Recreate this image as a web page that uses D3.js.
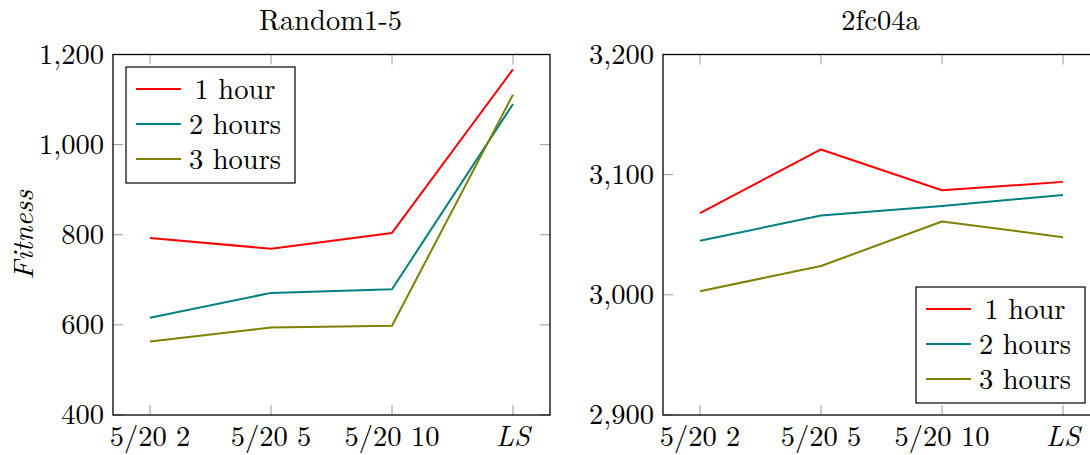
<!DOCTYPE html>
<html>
<head>
<meta charset="utf-8">
<script src="https://cdn.jsdelivr.net/npm/d3@7"></script>
<style>
  html, body { margin: 0; padding: 0; background: #fff; }
  svg { display: block; }
</style>
</head>
<body>
<svg id="chart" width="1090" height="455"></svg>
<script>
// ---- data ----
const categories = ["5/20 2", "5/20 5", "5/20 10", "LS"];
const seriesNames = ["1 hour", "2 hours", "3 hours"];
const seriesColors = ["#ff0000", "#008080", "#808000"];

const random15_1h = [793, 769, 804, 1167];
const random15_2h = [616, 671, 679, 1090];
const random15_3h = [563, 594, 598, 1111];
const random15Ticks = [400, 600, 800, 1000, 1200];

const fc04a_1h = [3068, 3121, 3087, 3094];
const fc04a_2h = [3045, 3066, 3074, 3083];
const fc04a_3h = [3003, 3024, 3061, 3048];
const fc04aTicks = [2900, 3000, 3100, 3200];

const panels = [
  { title: "Random1-5", series: [random15_1h, random15_2h, random15_3h], ticks: random15Ticks,
    domain: [400, 1200], left: 113, right: 550, legend: "topleft", ylabel: "Fitness" },
  { title: "2fc04a", series: [fc04a_1h, fc04a_2h, fc04a_3h], ticks: fc04aTicks,
    domain: [2900, 3200], left: 663, right: 1100, legend: "bottomright", ylabel: null }
];

const FONT = '"Latin Modern Roman", "CMU Serif", "Liberation Serif", serif';
const svg = d3.select("#chart");
const plotTop = 54.5, plotBottom = 415;
const fs = 28.5;
const tickLen = 10;
const fmt = d3.format(",");

function txt(sel) {
  return sel.append("text").style("font-family", FONT).style("font-size", fs + "px").attr("fill", "#000");
}

panels.forEach(p => {
  const g = svg.append("g");
  const pad = 37;
  const x = d3.scalePoint().domain(categories).range([p.left + pad, p.right - pad]);
  const y = d3.scaleLinear().domain(p.domain).range([plotBottom, plotTop]);

  // ticks (gray, inside, mirrored)
  const tg = g.append("g").attr("stroke", "#9a9a9a").attr("stroke-width", 1);
  categories.forEach(c => {
    tg.append("line").attr("x1", x(c)).attr("x2", x(c)).attr("y1", plotBottom).attr("y2", plotBottom - tickLen);
    tg.append("line").attr("x1", x(c)).attr("x2", x(c)).attr("y1", plotTop).attr("y2", plotTop + tickLen);
  });
  p.ticks.forEach(t => {
    tg.append("line").attr("x1", p.left).attr("x2", p.left + tickLen).attr("y1", y(t)).attr("y2", y(t));
    tg.append("line").attr("x1", p.right).attr("x2", p.right - tickLen).attr("y1", y(t)).attr("y2", y(t));
  });

  // lines
  const line = d3.line().x((d, i) => x(categories[i])).y(d => y(d));
  p.series.forEach((s, i) => {
    g.append("path").datum(s).attr("d", line)
      .attr("fill", "none").attr("stroke", seriesColors[i]).attr("stroke-width", 2)
      .attr("stroke-linejoin", "round");
  });

  // frame
  g.append("rect").attr("x", p.left).attr("y", plotTop)
    .attr("width", p.right - p.left).attr("height", plotBottom - plotTop)
    .attr("fill", "none").attr("stroke", "#000").attr("stroke-width", 1.3);

  // y tick labels
  p.ticks.forEach(t => {
    txt(g).attr("x", p.left - 9).attr("y", y(t) + 9.3)
      .attr("text-anchor", "end").text(fmt(t));
  });
  // x tick labels
  categories.forEach(c => {
    txt(g).attr("x", x(c)).attr("y", 446)
      .attr("text-anchor", "middle")
      .style("font-style", c === "LS" ? "italic" : "normal").text(c);
  });

  // title
  txt(g).attr("x", (p.left + p.right) / 2 - 1).attr("y", 30)
    .attr("text-anchor", "middle").text(p.title);

  // y label
  if (p.ylabel) {
    txt(g).attr("transform", `translate(33, ${(plotTop + plotBottom) / 2}) rotate(-90)`)
      .attr("text-anchor", "middle").style("font-style", "italic")
      .text(p.ylabel);
  }

  // legend
  const lw = 169, lh = 116;
  const lx = p.legend === "topleft" ? p.left + 13 : p.right - 15 - lw;
  const ly = p.legend === "topleft" ? plotTop + 12.5 : plotBottom - 12 - lh;
  const lg = g.append("g").attr("transform", `translate(${lx},${ly})`);
  lg.append("rect").attr("width", lw).attr("height", lh)
    .attr("fill", "#fff").attr("stroke", "#000").attr("stroke-width", 1.2);
  seriesNames.forEach((n, i) => {
    const cy = 22 + i * 35;
    lg.append("line").attr("x1", 10).attr("x2", 55).attr("y1", cy).attr("y2", cy)
      .attr("stroke", seriesColors[i]).attr("stroke-width", 2);
    txt(lg).attr("x", 109).attr("y", cy + 10)
      .attr("text-anchor", "middle").text(n);
  });
});
</script>
</body>
</html>
